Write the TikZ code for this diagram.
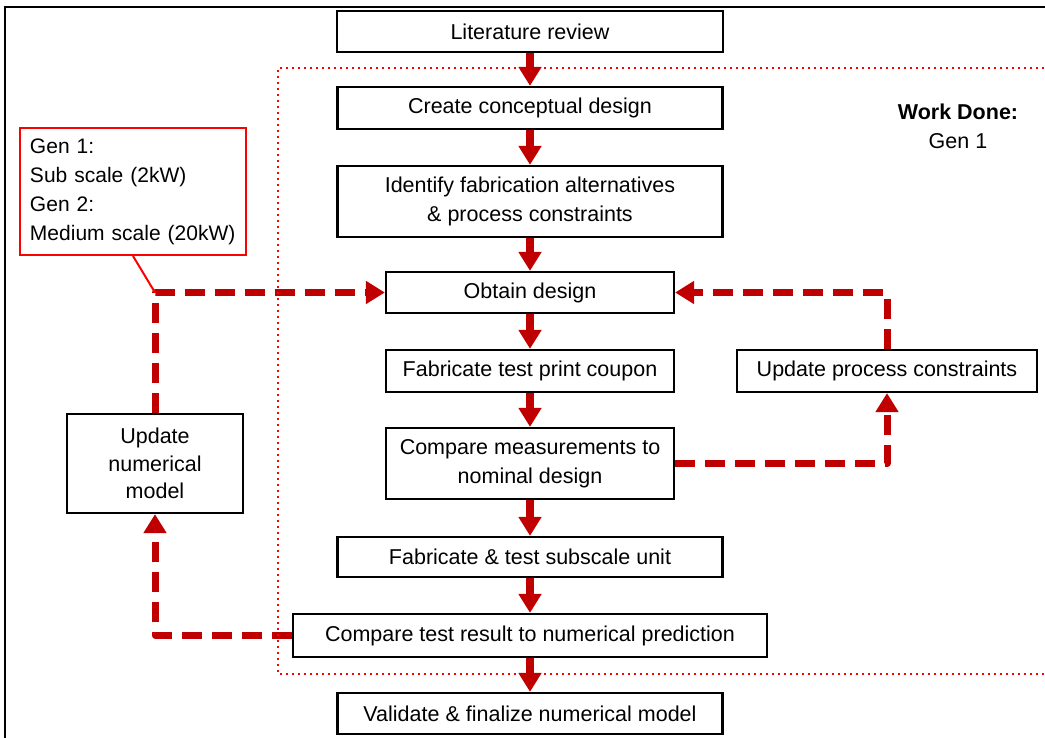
\documentclass[tikz,border=0pt]{standalone}
\usepackage{fontspec}
\setmainfont{Liberation Sans}
\usetikzlibrary{arrows.meta}
\definecolor{dred}{HTML}{C00000}
\definecolor{lred}{HTML}{FF0000}
\begin{document}
\begin{tikzpicture}[x=1pt,y=-1pt,
  box/.style={draw=black,line width=2.2pt,fill=white,inner sep=0pt,align=center,
    font=\fontsize{21.5}{29}\selectfont},
  flow/.style={draw=dred,line width=8pt,-{Triangle[width=22pt,length=19pt]}},
  fb/.style={draw=dred,line width=7pt,dash pattern=on 20pt off 10pt,line join=round,
    -{Triangle[width=22pt,length=19pt]}},
  lbl/.style={font=\fontsize{21.5}{29}\selectfont,inner sep=0pt}
]
\useasboundingbox (0,0) rectangle (1045,738);
\clip (0,0) rectangle (1045,738);
\fill[white] (0,0) rectangle (1045,738);
\draw[black,line width=2.5pt] (5,7) rectangle (1080,770);

% boxes
\node[box,minimum width=386pt,minimum height=41pt] (lit) at (530,31.5) {Literature review};
\node[box,minimum width=385pt,minimum height=42pt] (create) at (530,108) {Create conceptual design};
\node[box,minimum width=385pt,minimum height=71pt] (ident) at (530,201.5) {Identify fabrication alternatives\\\& process constraints};
\node[box,minimum width=288pt,minimum height=41pt] (obtain) at (530,292.5) {Obtain design};
\node[box,minimum width=288pt,minimum height=42pt] (coupon) at (530,371) {Fabricate test print coupon};
\node[box,minimum width=300pt,minimum height=42pt] (upc) at (887,371) {Update process constraints};
\node[box,minimum width=288pt,minimum height=71pt] (cmp) at (530,463.5) {Compare measurements to\\nominal design};
\node[box,minimum width=385pt,minimum height=40pt] (fab) at (530,557) {Fabricate \& test subscale unit};
\node[box,minimum width=474pt,minimum height=43pt] (ctr) at (530,635.5) {Compare test result to numerical prediction};
\node[box,minimum width=385pt,minimum height=41pt] (val) at (530,713.5) {Validate \& finalize numerical model};
\node[box,minimum width=176pt,minimum height=99pt,font=\fontsize{21.5}{27.5}\selectfont] (unm) at (155,463.5) {Update\\numerical\\model};
\node[draw=lred,line width=2pt,fill=white,inner xsep=10pt,inner ysep=0pt,text width=206pt,
  minimum height=127pt,align=left,font=\fontsize{21}{29}\selectfont] (call) at (133,191.5)
  {Gen 1:\\Sub scale (2kW)\\Gen 2:\\Medium scale (20kW)};

\node[lbl,font=\fontsize{21.5}{29}\selectfont\bfseries] (wd) at (958,112) {Work Done:};
\node[lbl] (g1) at (958,141) {Gen 1};

% feedback dashed arrows
\coordinate (cp) at (unm.north |- obtain.west);
\draw[fb] (unm.north) |- (obtain.west);
\draw[fb] (upc.north) |- (obtain.east);
\draw[fb] (cmp.east) -| (upc.south);
\draw[fb] (ctr.west) -| (unm.south);
\draw[lred,line width=2pt] (call.south) -- (cp);

% dotted region
\draw[lred,line width=2.2pt,dash pattern=on 2.2pt off 3.8pt] (1080,68) -- (278,68) -- (278,674) -- (1080,674);

% main flow
\draw[flow] (lit) -- (create);
\draw[flow] (create) -- (ident);
\draw[flow] (ident) -- (obtain);
\draw[flow] (obtain) -- (coupon);
\draw[flow] (coupon) -- (cmp);
\draw[flow] (cmp) -- (fab);
\draw[flow] (fab) -- (ctr);
\draw[flow] (ctr) -- (val);
\end{tikzpicture}
\end{document}
